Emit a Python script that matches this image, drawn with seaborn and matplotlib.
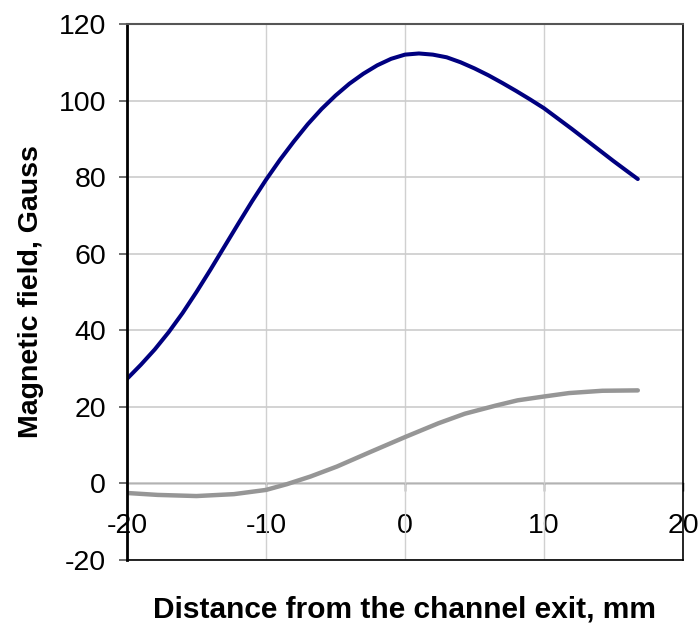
import matplotlib
matplotlib.use("Agg")
import matplotlib.pyplot as plt
import seaborn as sns

# Field profiles (distance in mm, field in Gauss)
blue_x = [-20, -19, -18, -17, -16, -15, -14, -13, -12, -11, -10, -9, -8, -7, -6, -5,
          -4, -3, -2, -1, 0, 1, 2, 3, 4, 5, 6, 7, 8, 9, 10, 11, 12, 13, 14, 15, 16, 16.75]
blue_y = [27.3, 31.0, 35.0, 39.5, 44.5, 50.0, 55.8, 61.8, 67.8, 73.7, 79.3, 84.5, 89.3,
          93.8, 97.8, 101.3, 104.4, 107.0, 109.2, 110.9, 112.0, 112.3, 112.0, 111.3,
          110.0, 108.4, 106.6, 104.6, 102.5, 100.3, 98.0, 95.3, 92.6, 89.8, 87.0, 84.2,
          81.5, 79.5]

gray_x = [-20, -17.8, -15.0, -12.3, -10.0, -8.5, -6.8, -4.9, -2.5, 0, 2.4, 4.3, 6.5,
          8.1, 10.0, 11.8, 14.2, 16.75]
gray_y = [-2.5, -3.0, -3.3, -2.8, -1.7, -0.2, 1.8, 4.4, 8.2, 12.1, 15.7, 18.2, 20.3,
          21.7, 22.7, 23.6, 24.2, 24.3]

x_ticks = [-20, -10, 0, 10, 20]
y_ticks = [-20, 0, 20, 40, 60, 80, 100, 120]
x_range = (-20, 20)
y_range = (-20, 120)

sns.set_style("white")
plt.rcParams['font.family'] = ['Liberation Sans', 'DejaVu Sans']
plt.rcParams['axes.unicode_minus'] = False
plt.rcParams['text.color'] = 'black'
plt.rcParams['axes.labelcolor'] = 'black'
plt.rcParams['xtick.color'] = 'black'
plt.rcParams['ytick.color'] = 'black'

fig = plt.figure(figsize=(7, 6.28), dpi=100)
ax = fig.add_axes([0.1814, 0.1083, 0.7943, 0.8535])

sns.lineplot(x=gray_x, y=gray_y, color='#969696', linewidth=3.2, ax=ax)
sns.lineplot(x=blue_x, y=blue_y, color='#000080', linewidth=2.9, ax=ax)
for ln in ax.lines:
    ln.set_solid_capstyle('round')
    ln.set_solid_joinstyle('round')

ax.set_xlim(*x_range)
ax.set_ylim(*y_range)
ax.set_xticks(x_ticks)
ax.set_yticks(y_ticks)

# gridlines
ax.grid(True, axis='y', color='#cccccc', linewidth=1.2)
ax.grid(True, axis='x', color='#d0d0d0', linewidth=1.0)
ax.set_axisbelow(True)

# frame
ax.spines['bottom'].set_color('black')
ax.spines['bottom'].set_linewidth(1.2)
ax.spines['left'].set_linewidth(2.0)
ax.spines['left'].set_color('black')
ax.spines['top'].set_color('#555555')
ax.spines['top'].set_linewidth(1.5)
ax.spines['right'].set_color('black')
ax.spines['right'].set_linewidth(1.2)

ax.tick_params(axis='y', direction='out', length=6, width=1.2, color='#555555',
               pad=9, labelsize=20.5, left=True, labelcolor='black')
ax.tick_params(axis='x', bottom=False, labelbottom=False)

# the category axis crosses at y = 0
zero_pos = (0 - y_range[0]) / (y_range[1] - y_range[0])
secax = ax.secondary_xaxis(zero_pos)
secax.set_xticks(x_ticks)
secax.spines['bottom'].set_color('#333333')
secax.spines['bottom'].set_linewidth(1.0)
secax.tick_params(axis='x', direction='out', length=6, width=1.0, color='#333333',
                  pad=15, labelsize=20.5, labelcolor='black')

ax.set_ylabel('Magnetic field, Gauss', fontsize=20.5, fontweight='bold')
ax.yaxis.set_label_coords(-0.15, 0.5)
ax.set_xlabel('Distance from the channel exit, mm', fontsize=21.5, fontweight='bold')
ax.xaxis.set_label_coords(0.5, -0.066)

fig.savefig('out.png', dpi=100)
